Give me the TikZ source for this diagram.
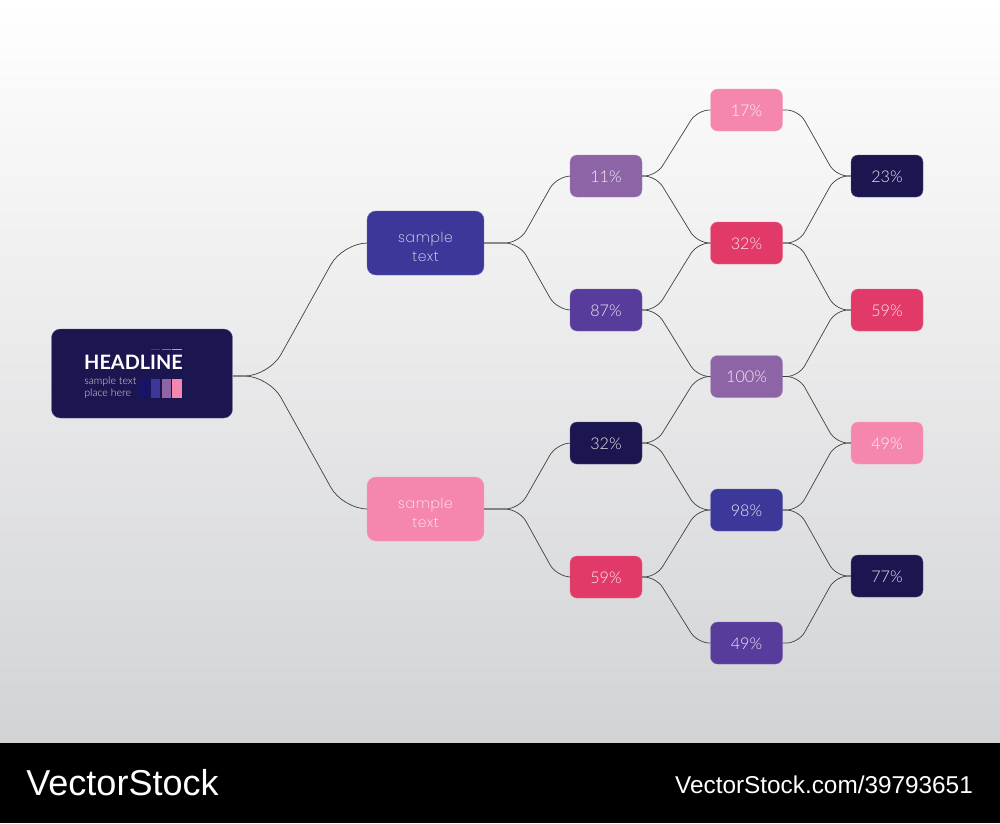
\documentclass[tikz,border=0pt]{standalone}
\usepackage{fontspec}
\setmainfont{Lato}
\newfontfamily\pctfont{Lato}[UprightFont=* Light]
\newfontfamily\roundfont{Poppins}[UprightFont=* ExtraLight,LetterSpace=5]
\newfontfamily\markfont{Liberation Sans}
\definecolor{InkNavy}{HTML}{1B1650}
\definecolor{DeepBlue}{HTML}{3B3899}
\definecolor{SoftPink}{HTML}{F586AE}
\definecolor{HotRed}{HTML}{E13A68}
\definecolor{MutedPurple}{HTML}{8D64A6}
\definecolor{DeepViolet}{HTML}{573C9B}
\definecolor{PageGrey}{HTML}{D2D3D5}
\usetikzlibrary{calc}
\tikzset{
  % Box styles
  pctbox/.style={rectangle, rounded corners=4pt, fill=#1, draw=#1!75!white, line width=0.2pt, text=white!90!#1, minimum width=1.44cm, minimum height=0.84cm, text height=7.3pt, text depth=0pt, font=\pctfont\fontsize{9.2}{11}\selectfont, align=center},
  splitbox/.style={rectangle, rounded corners=5pt, fill=#1, draw=#1!75!white, line width=0.2pt, text=white!90!#1, minimum width=2.34cm, minimum height=1.28cm, text height=20.7pt, font=\roundfont\fontsize{7.9}{10.8}\selectfont, align=center},
  headbox/.style={rectangle, rounded corners=5pt, fill=InkNavy, draw=InkNavy!75!white, line width=0.2pt, minimum width=3.62cm, minimum height=1.78cm},
  % Arrow styles
  branch/.style 2 args={to path={-- ++(#1,0) -- ($(\tikztotarget)+(-#2,0)$) -- (\tikztotarget)}},
  link/.style={draw=black!75, line width=0.4pt, rounded corners=#1},
  link/.default=7pt
}
\begin{document}
\begin{tikzpicture}[x=0.02cm, y=-0.02cm]
  \useasboundingbox (0,0) rectangle (1000,823);
  % Page
  \shade[top color=white, bottom color=PageGrey] (0,0) rectangle (1000,743);
  \fill[black] (0,743) rectangle (1000,823);
  \node[text=white, font=\markfont\fontsize{20.5}{24}\selectfont, inner sep=0pt] (brand) at (122.5,783) {VectorStock};
  \node[text=white, font=\markfont\fontsize{13.85}{16}\selectfont, inner sep=0pt] (brandurl) at (824,785) {VectorStock.com/39793651};

  % Root
  \node[headbox] (head) at (142,373.5) {};
  \node[text=white, font=\bfseries\fontsize{11.3}{13}\selectfont, inner sep=0pt] (headline) at (133.5,362) {HEADLINE};
  \node[text=white!85!InkNavy, font=\pctfont\fontsize{6}{6.9}\selectfont, align=left, inner sep=0pt, anchor=west] (subline) at (84,387.5) {sample text\\place here};
  \coordinate (headout) at (233,376);

  % Small chart in the root
  \foreach \xa/\xb/\barcol in {140/150/InkNavy!85!blue, 151/160/DeepBlue, 162/171/MutedPurple, 172/182/SoftPink} {
    \fill[\barcol] (\xa,379) rectangle (\xb,398);
  }
  \foreach \xa/\xb/\barcol in {151/160/DeepBlue, 162/171/MutedPurple, 172/182/SoftPink} {
    \fill[\barcol] (\xa,348.5) rectangle (\xb,350);
  }

  % Second level
  \node[splitbox=DeepBlue] (top) at (425.5,243) {sample\\text};
  \node[splitbox=SoftPink] (bot) at (425.5,509) {sample\\text};

  % Third level
  \node[pctbox=MutedPurple] (s1) at (606,176) {11\%};
  \node[pctbox=DeepViolet] (s2) at (606,310) {87\%};
  \node[pctbox=InkNavy] (s3) at (606,443) {32\%};
  \node[pctbox=HotRed] (s4) at (606,577) {59\%};

  % Fourth level
  \node[pctbox=SoftPink] (m1) at (746.5,110) {17\%};
  \node[pctbox=HotRed] (m2) at (746.5,243) {32\%};
  \node[pctbox=MutedPurple] (m3) at (746.5,376.5) {100\%};
  \node[pctbox=DeepBlue] (m4) at (746.5,510) {98\%};
  \node[pctbox=DeepViolet] (m5) at (746.5,643) {49\%};

  % Last level
  \node[pctbox=InkNavy] (e1) at (887,176) {23\%};
  \node[pctbox=HotRed] (e2) at (887,310) {59\%};
  \node[pctbox=SoftPink] (e3) at (887,443) {49\%};
  \node[pctbox=InkNavy] (e4) at (887,576) {77\%};

  % Connectors
  \draw[link=14pt, branch={36}{24}] (headout) to (top.west);
  \draw[link=14pt, branch={36}{24}] (headout) to (bot.west);
  \foreach \from/\to in {top/s1, top/s2, bot/s3, bot/s4} {
    \draw[link=8pt, branch={35}{13}] (\from.east) to (\to.west);
  }
  \foreach \from/\to in {s1/m1, s1/m2, s2/m2, s2/m3, s3/m3, s3/m4, s4/m4, s4/m5} {
    \draw[link, branch={14}{13}] (\from.east) to (\to.west);
  }
  \foreach \from/\to in {m1/e1, m2/e1, m2/e2, m3/e2, m3/e3, m4/e3, m4/e4, m5/e4} {
    \draw[link, branch={16}{15}] (\from.east) to (\to.west);
  }
\end{tikzpicture}
\end{document}
